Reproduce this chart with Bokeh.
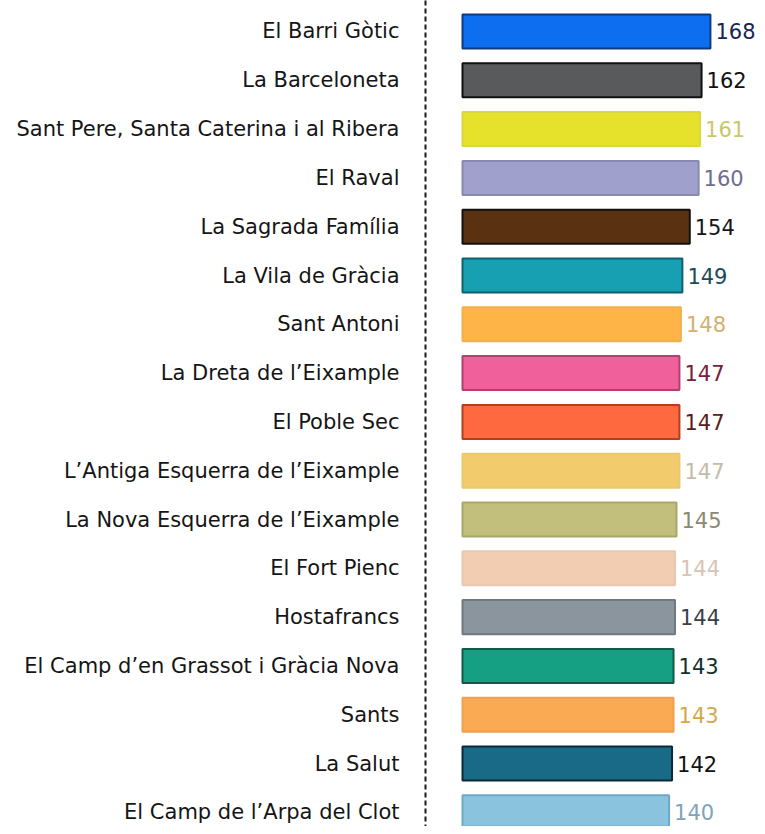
from bokeh.plotting import figure
from bokeh.models import Range1d, FixedTicker, ColumnDataSource
from bokeh.embed import file_html
from bokeh.resources import INLINE
from bokeh.core.properties import value

barris = [
    "El Barri Gòtic",
    "La Barceloneta",
    "Sant Pere, Santa Caterina i al Ribera",
    "El Raval",
    "La Sagrada Família",
    "La Vila de Gràcia",
    "Sant Antoni",
    "La Dreta de l’Eixample",
    "El Poble Sec",
    "L’Antiga Esquerra de l’Eixample",
    "La Nova Esquerra de l’Eixample",
    "El Fort Pienc",
    "Hostafrancs",
    "El Camp d’en Grassot i Gràcia Nova",
    "Sants",
    "La Salut",
    "El Camp de l’Arpa del Clot",
]
valors = [168, 162, 161, 160, 154, 149, 148, 147, 147, 147, 145, 144, 144, 143, 143, 142, 140]

colors_barra = ["#0d6ff0", "#585a5c", "#e6e22c", "#9fa0cc", "#5a3212", "#17a0b2", "#ffb448",
                "#f0609b", "#ff6940", "#f2cc6c", "#c2be7c", "#f3cdb1", "#8b959d", "#15a083",
                "#f9aa52", "#196a86", "#8ac3de"]
colors_vora = ["#103a80", "#111111", "#d8d840", "#8888b0", "#111111", "#0f6070", "#f0b050",
               "#b04070", "#b04020", "#e8c870", "#a8a868", "#e8c8b0", "#707880", "#0f5a48",
               "#f0a050", "#0a2a38", "#70a8c8"]
colors_valor = ["#1a2450", "#111111", "#c8c868", "#6e6e90", "#151515", "#1c4a5a", "#d4b070",
                "#7a2040", "#5a2020", "#c4bca8", "#8a8a70", "#d8c4b4", "#3a4048", "#12302c",
                "#d4a848", "#111111", "#80a4b8"]

pos = list(range(len(barris)))

src = ColumnDataSource(dict(y=pos, v=valors, lab=[str(x) for x in valors],
                            fc=colors_barra, lc=colors_vora, tc=colors_valor))

p = figure(width=757, height=826, output_backend="svg", toolbar_location=None,
           x_range=Range1d(-25.07, 199.9), y_range=Range1d(16.29, -0.635),
           min_border_left=425, min_border_right=0, min_border_top=0, min_border_bottom=0,
           outline_line_color=None)
p.xaxis.visible = False
p.xgrid.visible = False
p.ygrid.visible = False

ax = p.yaxis[0]
ax.ticker = FixedTicker(ticks=pos)
ax.major_label_overrides = {i: b for i, b in enumerate(barris)}
ax.major_tick_line_color = None
ax.minor_tick_line_color = None
ax.major_label_standoff = 20
ax.axis_line_color = "#1a1a1a"
ax.axis_line_width = 2
ax.axis_line_dash = "5 3"
ax.major_label_text_font = "DejaVu Sans"
ax.major_label_text_font_size = "21px"
ax.major_label_text_color = "#151515"

p.hbar(y="y", left=0, right="v", height=0.697, fill_color="fc", line_color="lc",
       line_width=2, source=src)
p.text(x="v", y="y", text="lab", x_offset=5, text_baseline="middle", text_align="left",
       text_font=value("DejaVu Sans"), text_font_size="21px", text_color="tc", source=src)

open("out.html", "w").write(file_html(p, INLINE))
